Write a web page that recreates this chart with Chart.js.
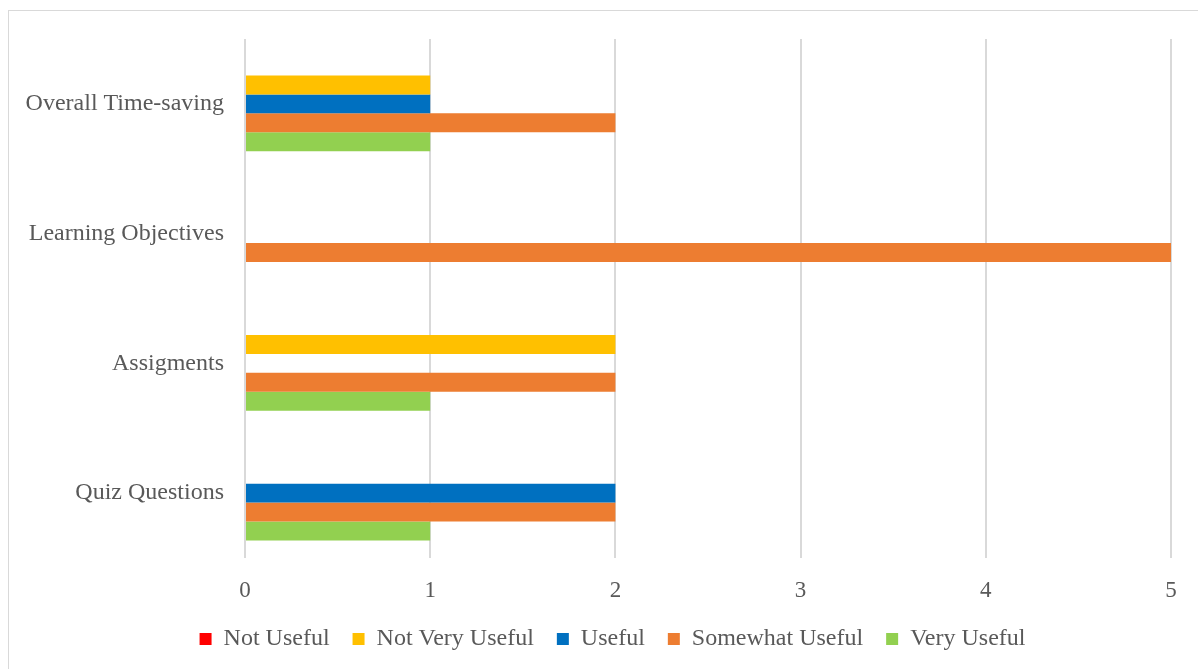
<!DOCTYPE html>
<html>
<head>
<meta charset="utf-8">
<script src="https://cdn.jsdelivr.net/npm/chart.js@4/dist/chart.umd.min.js"></script>
<style>
  html, body { margin: 0; padding: 0; background: #fff; overflow: hidden; }
  #wrap { position: relative; width: 1198px; height: 669px; }
  #frame { position: absolute; left: 8px; top: 10px; width: 1200px; height: 670px; border: 1px solid #d9d9d9; box-sizing: border-box; }
</style>
</head>
<body>
<div id="wrap">
  <div id="frame"></div>
  <canvas id="grafico"></canvas>
</div>
<script>
// categorias e valores
const categorias = ['Overall Time-saving', 'Learning Objectives', 'Assigments', 'Quiz Questions'];
const notUseful = [0, 0, 0, 0];
const notVeryUseful = [1, 0, 2, 0];
const useful = [1, 0, 0, 2];
const somewhatUseful = [2, 5, 2, 2];
const veryUseful = [1, 0, 1, 1];
const xTicks = [0, 1, 2, 3, 4, 5];

const serif = '"Liberation Serif", "Times New Roman", serif';
const cinza = '#595959';

// desloca a legenda para a direita (centrada na moldura, como no original)
const moveLegenda = {
  id: 'moveLegenda',
  afterLayout(chart) {
    chart.legend.left += 27;
    chart.legend.right += 27;
  }
};

const ctx = document.getElementById('grafico').getContext('2d');
const data = {
  labels: categorias,
  datasets: [
    { label: 'Not Useful', data: notUseful, backgroundColor: '#FF0000' },
    { label: 'Not Very Useful', data: notVeryUseful, backgroundColor: '#FFC000' },
    { label: 'Useful', data: useful, backgroundColor: '#0070C0' },
    { label: 'Somewhat Useful', data: somewhatUseful, backgroundColor: '#ED7D31' },
    { label: 'Very Useful', data: veryUseful, backgroundColor: '#92D050' }
  ]
};

const config = {
  type: 'bar',
  data: data,
  plugins: [moveLegenda],
  options: {
    indexAxis: 'y',
    responsive: true,
    maintainAspectRatio: false,
    animation: false,
    categoryPercentage: 0.73,
    barPercentage: 1.0,
    layout: { padding: { top: 39, left: 0, right: 27, bottom: 8 } },
    plugins: {
      tooltip: { enabled: false },
      legend: {
        display: true,
        position: 'bottom',
        labels: {
          boxWidth: 12,
          boxHeight: 12,
          padding: 23,
          color: cinza,
          font: { family: serif, size: 24 }
        }
      }
    },
    scales: {
      x: {
        min: 0,
        max: 5,
        afterBuildTicks: (s) => { s.ticks = xTicks.map(v => ({ value: v })); },
        afterFit: (s) => { s.height = 46; },
        grid: { color: '#d9d9d9', lineWidth: 2, drawTicks: false },
        border: { display: false },
        ticks: { padding: 19, color: cinza, font: { family: serif, size: 23 } }
      },
      y: {
        afterFit: (s) => { s.width = 245; },
        grid: { display: false, drawTicks: false },
        border: { display: false },
        ticks: { padding: 21, color: cinza, font: { family: serif, size: 24 } }
      }
    }
  }
};
document.getElementById('grafico').parentNode.style.width = '1198px';
const grafico = new Chart(ctx, config);
</script>
</body>
</html>
